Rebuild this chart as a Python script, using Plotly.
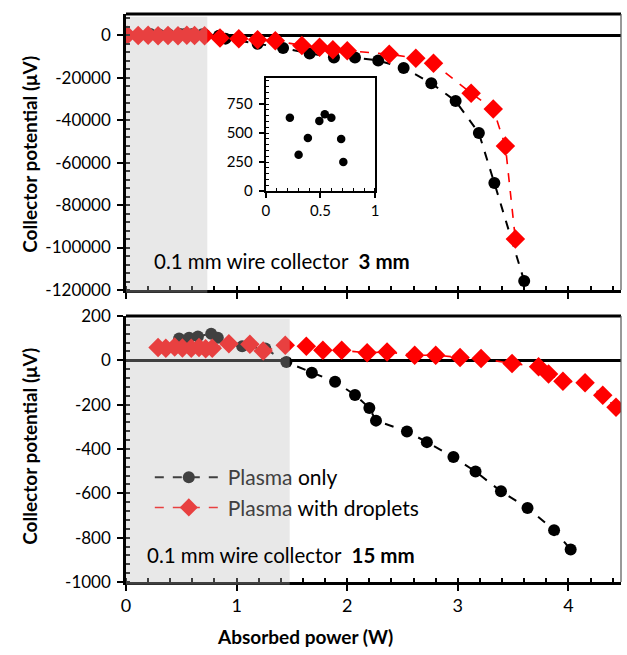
import plotly.graph_objects as go

# ---------------- data ----------------
# Top panel: 0.1 mm wire collector, 3 mm
top_only_x = [0.22, 0.30, 0.385, 0.49, 0.54, 0.60, 0.69, 0.71, 0.84, 0.90, 1.19, 1.42, 1.66, 1.88,
              2.07, 2.28, 2.51, 2.76, 2.98, 3.19, 3.33, 3.60]
top_only_y = [633, 312, 457, 605, 662, 633, 449, 250, -200, -1600, -4000, -6000, -8600, -10500,
              -10500, -11900, -15400, -22600, -31000, -46100, -69600, -115800]
top_drop_x = [0.01, 0.11, 0.20, 0.29, 0.38, 0.47, 0.55, 0.62, 0.71, 0.85, 1.02, 1.19, 1.35, 1.59,
              1.75, 1.87, 2.00, 2.38, 2.62, 2.78, 3.12, 3.32, 3.43, 3.52]
top_drop_y = [0, -100, 0, -200, -100, -200, 0, -100, -200, -1300, -1600, -2100, -2600, -4800,
              -5700, -6800, -7300, -8900, -10800, -13200, -27300, -34800, -52200, -96000]

# Inset (zoom of low-power plasma-only points, 3 mm)
inset_x = [0.22, 0.30, 0.385, 0.49, 0.54, 0.60, 0.69, 0.71]
inset_y = [633, 312, 457, 605, 662, 633, 449, 250]

# Bottom panel: 0.1 mm wire collector, 15 mm
bot_only_x = [0.48, 0.57, 0.65, 0.77, 0.83, 1.05, 1.26, 1.45, 1.68, 1.89, 2.07, 2.20, 2.26, 2.54,
              2.72, 2.96, 3.16, 3.39, 3.63, 3.87, 4.02]
bot_only_y = [98, 102, 108, 120, 102, 63, 53, -8, -56, -97, -156, -215, -272, -321,
              -369, -436, -502, -591, -666, -766, -853]
bot_drop_x = [0.29, 0.36, 0.44, 0.51, 0.59, 0.66, 0.72, 0.78, 0.93, 1.12, 1.24, 1.44, 1.63, 1.78,
              1.95, 2.18, 2.36, 2.61, 2.80, 3.02, 3.21, 3.49, 3.73, 3.82, 3.95, 4.15, 4.31, 4.43]
bot_drop_y = [58, 55, 60, 56, 54, 58, 52, 55, 75, 72, 42, 68, 63, 45,
              45, 34, 38, 23, 23, 13, 8, -14, -29, -62, -94, -101, -157, -212]

shade_top = 0.735
shade_bot = 1.48

top_tickvals = [0, -20000, -40000, -60000, -80000, -100000, -120000]
top_ticktext = ["0", "-20000", "-40000", "-60000", "-80000", "-100000", "-120000"]
bot_tickvals = [200, 0, -200, -400, -600, -800, -1000]
bot_ticktext = ["200", "0", "-200", "-400", "-600", "-800", "-1000"]
x_tickvals = [0, 1, 2, 3, 4]
x_ticktext = ["0", "1", "2", "3", "4"]
inset_xticks = [0, 0.5, 1]
inset_xtext = ["0", "0.5", "1"]
inset_yticks = [0, 250, 500, 750]
inset_ytext = ["0", "250", "500", "750"]

x_title = "Absorbed power (W)"
y_title = "Collector potential (\u03bcV)"
top_label = "0.1 mm wire collector  <b>3 mm</b>"
bot_label = "0.1 mm wire collector  <b>15 mm</b>"
legend_only = '<span style="color:#404040">Plasma</span> only'
legend_drop = '<span style="color:#404040">Plasma</span> with droplets'

# ---------------- figure ----------------
FONT = "Lato"
W, H = 627, 655
ML, MR, MT, MB = 126, 2, 14, 73
PH = H - MT - MB
PW = W - ML - MR

def py(pix):  # pixel y -> paper y
    return (H - MB - pix) / PH

def px(pix):
    return (pix - ML) / PW

fig = go.Figure()

black_line = dict(color="black", width=2, dash="dash")
red_line = dict(color="#ff0000", width=1.6, dash="dash")

fig.add_trace(go.Scatter(x=top_only_x, y=top_only_y, mode="lines+markers", line=black_line,
                         marker=dict(symbol="circle", size=12, color="black"),
                         xaxis="x", yaxis="y", showlegend=False))
fig.add_trace(go.Scatter(x=top_drop_x, y=top_drop_y, mode="lines+markers", line=red_line,
                         marker=dict(symbol="diamond", size=15, color="#ff0000"),
                         xaxis="x", yaxis="y", showlegend=False))
fig.add_trace(go.Scatter(x=bot_only_x, y=bot_only_y, mode="lines+markers", line=black_line,
                         marker=dict(symbol="circle", size=12, color="black"),
                         xaxis="x2", yaxis="y2", showlegend=False))
fig.add_trace(go.Scatter(x=bot_drop_x, y=bot_drop_y, mode="lines+markers", line=red_line,
                         marker=dict(symbol="diamond", size=15, color="#ff0000"),
                         xaxis="x2", yaxis="y2", showlegend=False))
fig.add_trace(go.Scatter(x=inset_x, y=inset_y, mode="markers",
                         marker=dict(symbol="circle", size=8.5, color="black"),
                         xaxis="x3", yaxis="y3", showlegend=False))

# legend entries (legend sits in the shaded region, hence muted colours)
fig.add_trace(go.Scatter(x=[None], y=[None], mode="lines+markers", legendgroup="a",
                         line=dict(color="#404040", width=2, dash="dash"),
                         marker=dict(symbol="circle", size=12, color="#404040"),
                         name=legend_only, xaxis="x2", yaxis="y2"))
fig.add_trace(go.Scatter(x=[None], y=[None], mode="lines+markers", legendgroup="b",
                         line=dict(color="#e84040", width=1.6, dash="dash"),
                         marker=dict(symbol="diamond", size=14, color="#e84040"),
                         name=legend_drop, xaxis="x2", yaxis="y2"))

top_dom = [py(290), py(14)]
bot_dom = [py(582), py(316)]

xcommon = dict(range=[0, 4.475], showline=True, linewidth=2.5, linecolor="black",
               ticks="outside", ticklen=6, tickwidth=2, tickcolor="black",
               tickvals=x_tickvals, ticktext=x_ticktext, showgrid=False, zeroline=False,
               minor=dict(ticks="inside", ticklen=4, tickwidth=1.5, tickcolor="black", dtick=0.2, tick0=0),
               tickfont=dict(family=FONT, size=18, color="black"))

ycommon = dict(showline=True, linewidth=2.5, linecolor="black", showgrid=False,
               zeroline=True, zerolinewidth=2.5, zerolinecolor="black",
               ticks="outside", ticklen=6, tickwidth=2, tickcolor="black",
               tickfont=dict(family=FONT, size=17, color="black"), ticklabelstandoff=3)

fig.update_layout(
    width=W, height=H, margin=dict(l=ML, r=MR, t=MT, b=MB),
    paper_bgcolor="white", plot_bgcolor="white",
    font=dict(family=FONT, color="black"),
    xaxis=dict(**xcommon, domain=[0, 1], anchor="y", showticklabels=False),
    yaxis=dict(**ycommon, domain=top_dom, anchor="x", range=[-120000, 10000],
               tickvals=top_tickvals, ticktext=top_ticktext,
               minor=dict(ticks="inside", ticklen=4, tickwidth=1.5, tickcolor="black", dtick=4000, tick0=0)),
    xaxis2=dict(**xcommon, domain=[0, 1], anchor="y2"),
    yaxis2=dict(**ycommon, domain=bot_dom, anchor="x2", range=[-1000, 200],
                tickvals=bot_tickvals, ticktext=bot_ticktext,
                minor=dict(ticks="inside", ticklen=4, tickwidth=1.5, tickcolor="black", dtick=40, tick0=0)),
    xaxis3=dict(domain=[px(267), px(377)], anchor="y3", range=[0, 1],
                tickvals=inset_xticks, ticktext=inset_xtext,
                showline=True, linewidth=2.2, linecolor="black", mirror=True, showgrid=False,
                zeroline=False, ticks="outside", ticklen=5, tickwidth=1.5, tickcolor="black",
                minor=dict(ticks="inside", ticklen=3, tickwidth=1.2, tickcolor="black", dtick=0.1, tick0=0),
                tickfont=dict(family=FONT, size=15, color="black")),
    yaxis3=dict(domain=[py(191), py(78)], anchor="x3", range=[0, 975],
                tickvals=inset_yticks, ticktext=inset_ytext,
                showline=True, linewidth=2.2, linecolor="black", mirror=True, showgrid=False,
                zeroline=False, ticks="outside", ticklen=5, tickwidth=1.5, tickcolor="black",
                minor=dict(ticks="inside", ticklen=3, tickwidth=1.2, tickcolor="black", dtick=50, tick0=0),
                tickfont=dict(family=FONT, size=15, color="black"), ticklabelstandoff=3),
    legend=dict(x=px(150), y=py(457), xanchor="left", yanchor="top",
                bgcolor="rgba(0,0,0,0)", borderwidth=0, itemwidth=68,
                tracegroupgap=0,
                font=dict(family=FONT, size=21, color="black")),
)

shade = "rgba(188,188,188,0.34)"
fig.add_shape(type="rect", xref="x", yref="y domain", x0=0, x1=shade_top, y0=-0.01, y1=0.99,
              fillcolor=shade, line=dict(width=0), layer="above")
fig.add_shape(type="rect", xref="x2", yref="y2 domain", x0=0, x1=shade_bot, y0=-0.01, y1=0.99,
              fillcolor=shade, line=dict(width=0), layer="above")
# frame: thick top border and thin right border
for xd, yd in [("x domain", "y domain"), ("x2 domain", "y2 domain")]:
    fig.add_shape(type="line", xref=xd, yref=yd, x0=0, x1=1, y0=1, y1=1,
                  line=dict(color="black", width=3), layer="above")
    fig.add_shape(type="line", xref=xd, yref=yd, x0=1, x1=1, y0=0, y1=1,
                  line=dict(color="#555555", width=1.2), layer="above")

ann = [
    dict(text=top_label, x=px(152), y=py(261), xref="paper", yref="paper",
         xanchor="left", yanchor="middle", showarrow=False, font=dict(family=FONT, size=20.5)),
    dict(text=bot_label, x=px(145), y=py(555), xref="paper", yref="paper",
         xanchor="left", yanchor="middle", showarrow=False, font=dict(family=FONT, size=20.5)),
    dict(text=f"<b>{x_title}</b>", x=px(306), y=py(636), xref="paper", yref="paper",
         xanchor="center", yanchor="middle", showarrow=False, font=dict(family=FONT, size=19)),
    dict(text=f"<b>{y_title}</b>", x=px(28), y=py(154), xref="paper", yref="paper",
         xanchor="center", yanchor="middle", textangle=-90, showarrow=False,
         font=dict(family=FONT, size=19)),
    dict(text=f"<b>{y_title}</b>", x=px(28), y=py(446), xref="paper", yref="paper",
         xanchor="center", yanchor="middle", textangle=-90, showarrow=False,
         font=dict(family=FONT, size=19)),
]
fig.update_layout(annotations=ann)

fig.write_html("out.html")
